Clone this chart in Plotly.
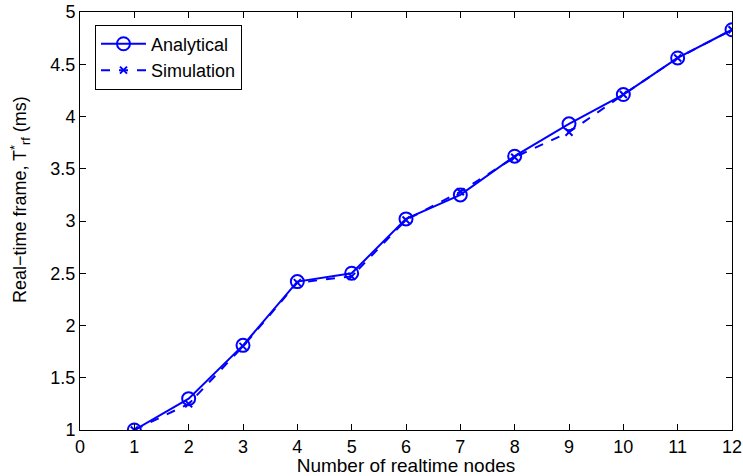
import plotly.graph_objects as go

nodes = [1, 2, 3, 4, 5, 6, 7, 8, 9, 10, 11, 12]
analytical = [1.00, 1.30, 1.81, 2.42, 2.50, 3.02, 3.25, 3.62, 3.93, 4.21, 4.56, 4.83]
simulation = [1.00, 1.25, 1.80, 2.41, 2.47, 3.01, 3.28, 3.61, 3.85, 4.21, 4.56, 4.83]
x_ticks = list(range(0, 13))
y_ticks = [1, 1.5, 2, 2.5, 3, 3.5, 4, 4.5, 5]

blue = "#0000FF"
FONT = "Arial, Liberation Sans, sans-serif"
fig = go.Figure()
fig.add_trace(go.Scatter(
    x=nodes, y=analytical, mode="lines+markers", name="Analytical",
    line=dict(color=blue, width=2),
    marker=dict(symbol="circle-open", size=13, color=blue, line=dict(width=2, color=blue)),
))
fig.add_trace(go.Scatter(
    x=nodes, y=simulation, mode="lines+markers", name="Simulation",
    line=dict(color=blue, width=2, dash="dash"),
    marker=dict(symbol="x-thin-open", size=7, color=blue, line=dict(width=2, color=blue)),
))

axis_common = dict(
    showgrid=False, zeroline=False, showline=True, linecolor="black", linewidth=1,
    mirror="ticks", ticks="inside", ticklen=6, tickcolor="black", automargin=False,
    tickfont=dict(family=FONT, size=18, color="black"),
)
fig.update_xaxes(range=[0, 12], tickvals=x_ticks, ticktext=[str(v) for v in x_ticks],
                 title=dict(text="Number of realtime nodes", standoff=0,
                            font=dict(family=FONT, size=19, color="black")),
                 **axis_common)
fig.update_yaxes(range=[1, 5], tickvals=y_ticks, ticktext=[f"{v:g}" for v in y_ticks],
                 **axis_common)

fig.add_annotation(
    text="Real−time frame, T<sup>*</sup><sub>rf</sub> (ms)",
    xref="paper", yref="paper", x=-0.092, y=0.55, xanchor="center", yanchor="middle",
    textangle=-90, showarrow=False,
    font=dict(family=FONT, size=18, color="black"),
)

fig.update_layout(
    width=743, height=476,
    margin=dict(l=80, r=11, t=12, b=46, autoexpand=False),
    plot_bgcolor="white", paper_bgcolor="white",
    showlegend=True,
    legend=dict(x=0.023, y=0.97, xanchor="left", yanchor="top",
                bgcolor="white", bordercolor="black", borderwidth=1,
                font=dict(family=FONT, size=18, color="black"),
                tracegroupgap=0, itemwidth=45),
)
fig.write_html("out.html")
